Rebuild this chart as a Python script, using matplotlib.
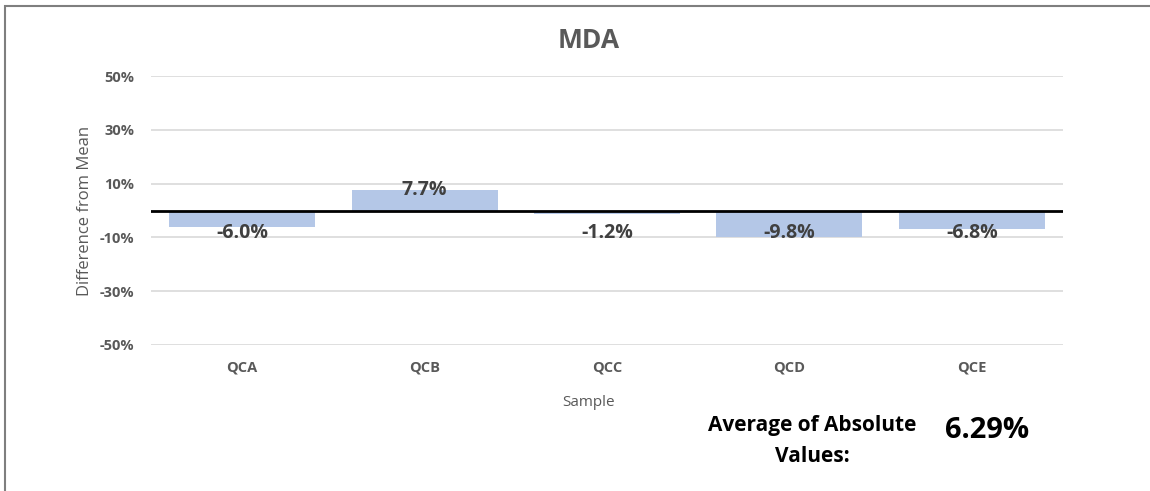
import matplotlib.pyplot as plt
import numpy as np
from matplotlib.patches import Rectangle

plt.rcParams['font.family'] = ['Open Sans', 'DejaVu Sans']

samples = ['QCA', 'QCB', 'QCC', 'QCD', 'QCE']
diffs = [-6.0, 7.7, -1.2, -9.8, -6.8]
yticks = [-50, -30, -10, 10, 30, 50]
avg_abs = '6.29%'

grey = '#595959'

fig = plt.figure(figsize=(11.5, 4.91), dpi=100)
ax = fig.add_axes([151 / 1150, 1 - 345 / 491, 912 / 1150, 269 / 491])

x = np.arange(len(samples))
ax.bar(x, diffs, width=0.8, color='#B4C7E7', zorder=2)
ax.axhline(0, color='black', linewidth=2, zorder=3)

for xi, v in zip(x, diffs):
    off = 15 if v > 0 else -16
    ax.annotate('%.1f%%' % v, (xi, 0), xytext=(0, off), textcoords='offset points',
                ha='center', va='center', fontsize=14, fontweight='bold',
                color='#404040', zorder=4)

ax.set_xlim(-0.5, len(samples) - 0.5)
ax.set_ylim(-50, 50)
ax.set_yticks(yticks)
ax.set_yticklabels(['%d%%' % t for t in yticks], fontsize=10.5,
                   fontweight='bold', color=grey)
ax.set_xticks(x)
ax.set_xticklabels(samples, fontsize=10.5, fontweight='bold', color=grey)
ax.tick_params(length=0, pad=12)
ax.tick_params(axis='x', pad=11)
ax.grid(axis='y', color='#D9D9D9', linewidth=1.2, zorder=0)
for s in ax.spines.values():
    s.set_visible(False)

fig.text(589 / 1150, 1 - 40 / 491, 'MDA', ha='center', va='center',
         fontsize=19, fontweight='bold', color=grey)
ax.set_ylabel('Difference from Mean', fontsize=12, color=grey, va='center')
ax.yaxis.set_label_coords((85 - 151) / 912, 0.5)
ax.set_xlabel('Sample', fontsize=11, color=grey)
ax.xaxis.set_label_coords((589 - 151) / 912, -(403 - 345) / 269)
ax.xaxis.label.set_va('center')

fig.text(812 / 1150, 1 - 441 / 491, 'Average of Absolute\nValues:', ha='center',
         va='center', fontsize=15, fontweight='bold', color='black',
         linespacing=1.65)
fig.text(987 / 1150, 1 - 430 / 491, avg_abs, ha='center', va='center',
         fontsize=21, fontweight='bold', color='black')

fig.patches.append(Rectangle((5 / 1150, -0.1), 1.2, 1.1 - 5.5 / 491,
                             transform=fig.transFigure, fill=False,
                             edgecolor='#7F7F7F', linewidth=1.5))

fig.savefig('out.png', dpi=100)
